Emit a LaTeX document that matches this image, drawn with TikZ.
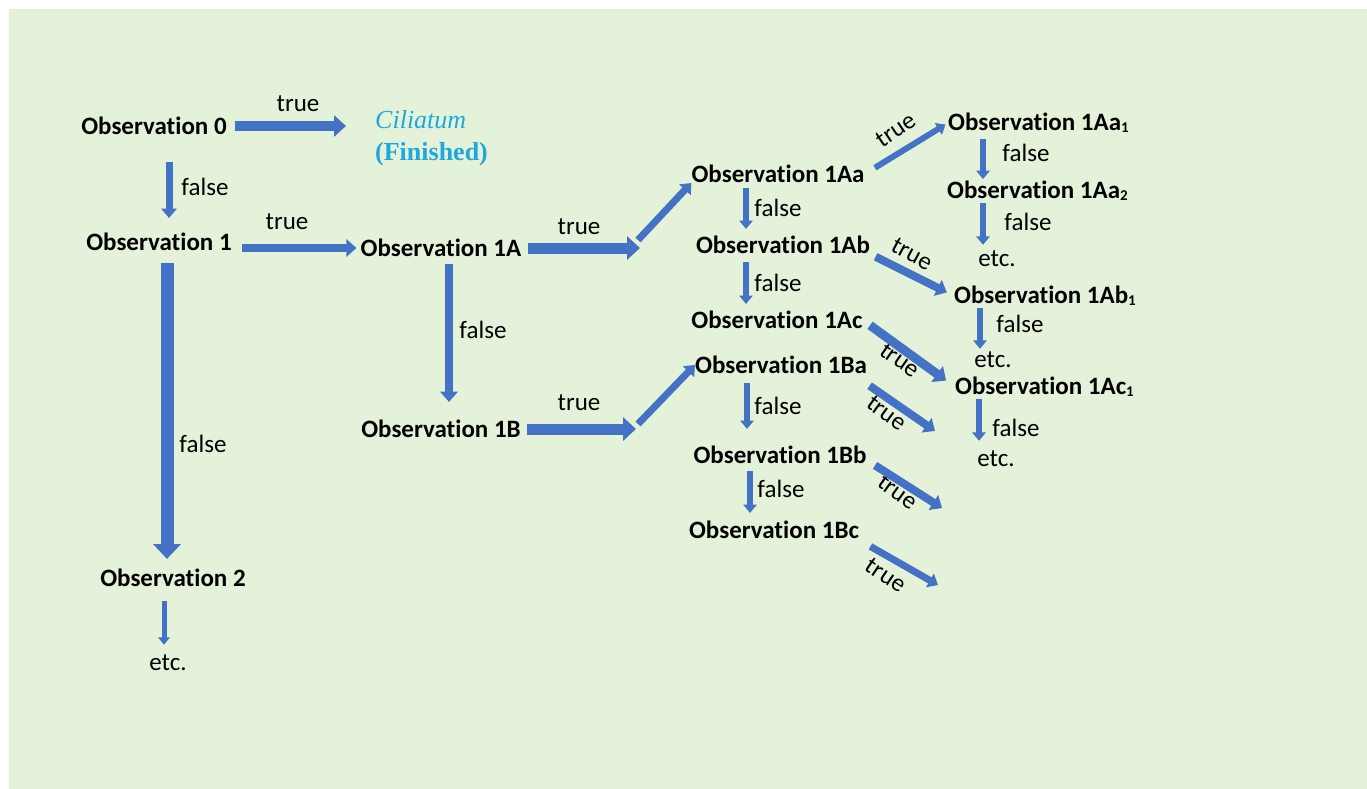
\documentclass[tikz,border=0pt]{standalone}
\usepackage{fontspec}
\setmainfont{Carlito}[Ligatures=NoCommon]
\newfontfamily\cilfont{Liberation Serif}
\definecolor{bggreen}{RGB}{229,242,218}
\definecolor{flowblue}{RGB}{68,114,196}
\definecolor{ciliblue}{RGB}{30,168,222}
\usetikzlibrary{arrows.meta, calc}
\newcommand{\obssub}[1]{\raisebox{-2pt}{\fontsize{15}{15}\selectfont #1}}

\begin{document}
\begin{tikzpicture}[x=1pt, y=-1pt,
    obs/.style={font=\bfseries\fontsize{25}{30}\selectfont, inner sep=0pt},
    lbl/.style={font=\fontsize{25}{30}\selectfont, inner sep=0pt},
    flow/.style={draw=flowblue, line width=#1, -{Triangle[length=3pt 0.9, width=2pt 1.9]}}]
  \useasboundingbox (0,0) rectangle (1367,789);
  \fill[bggreen] (9,9) rectangle (1367,789);

  % observations
  \node[obs] (obs0) at (154,126) {Observation 0};
  \node[align=left, anchor=west, inner sep=0pt, text=ciliblue, font=\cilfont\fontsize{26}{32}\selectfont] (cil) at (375,138) {\textit{Ciliatum}\\\textbf{(Finished)}};
  \node[obs] (obs1) at (159,242) {Observation 1};
  \node[obs] (obs2) at (173,578) {Observation 2};
  \node[lbl] (etc2) at (168,663) {etc.};
  \node[obs] (obs1A) at (441,248) {Observation 1A};
  \node[obs] (obs1B) at (441,429) {Observation 1B};
  \node[obs] (obs1Aa) at (778,174) {Observation 1Aa};
  \node[obs] (obs1Ab) at (783,245) {Observation 1Ab};
  \node[obs] (obs1Ac) at (777,320) {Observation 1Ac};
  \node[obs] (obs1Ba) at (781,365) {Observation 1Ba};
  \node[obs] (obs1Bb) at (780,455) {Observation 1Bb};
  \node[obs] (obs1Bc) at (774,530) {Observation 1Bc};
  \node[obs, anchor=west] (obs1Aa1) at (948,123) {Observation 1Aa\obssub{1}};
  \node[obs, anchor=west] (obs1Aa2) at (947,191) {Observation 1Aa\obssub{2}};
  \node[lbl] (etcAa) at (997,259) {etc.};
  \node[obs, anchor=west] (obs1Ab1) at (954,296) {Observation 1Ab\obssub{1}};
  \node[lbl] (etcAb) at (993,360) {etc.};
  \node[obs, anchor=west] (obs1Ac1) at (955,387) {Observation 1Ac\obssub{1}};
  \node[lbl] (etcAc) at (996,459) {etc.};

  % free ends
  \coordinate (hA) at (640,248);
  \coordinate (dA) at (638,240);
  \coordinate (hB) at (636,429);
  \coordinate (dB) at (638,424);
  \coordinate (tipBa) at (935,431);
  \coordinate (tipBb) at (942,508);
  \coordinate (tipBc) at (938,585);

  % labels
  \node[lbl] (t0) at (298,104) {true};
  \node[lbl] (f0) at (205,187) {false};
  \node[lbl] (t1) at (287,222) {true};
  \node[lbl] (f1) at (203,444) {false};
  \node[lbl] (f1A) at (483,330) {false};
  \node[lbl] (t1A) at (579,227) {true};
  \node[lbl] (t1B) at (579,403) {true};
  \node[lbl] (f1Aa) at (778,208) {false};
  \node[lbl] (f1Ab) at (778,283) {false};
  \node[lbl] (f1Ba) at (778,406) {false};
  \node[lbl] (f1Bb) at (781,489) {false};
  \node[lbl] (f1Aa1) at (1026,153) {false};
  \node[lbl] (f1Aa2) at (1028,222) {false};
  \node[lbl] (f1Ab1) at (1020,324) {false};
  \node[lbl] (f1Ac1) at (1016,428) {false};
  \node[lbl, rotate=34] (tAa1) at (896,130) {true};
  \node[lbl, rotate=-28] (tAb1) at (912,254) {true};
  \node[lbl, rotate=-35] (tAc1) at (900,360) {true};
  \node[lbl, rotate=-36] (tBa) at (887,413) {true};
  \node[lbl, rotate=-36] (tBb) at (898,492) {true};
  \node[lbl, rotate=-34] (tBc) at (886,575) {true};

  % left part
  \draw[flow=10pt, shorten <=8pt, shorten >=29pt] (obs0.east) -- (obs0.east -| cil.west);
  \draw[flow=7pt, shorten <=27pt, shorten >=15pt] ([xshift=15pt]obs0.south) -- ([xshift=15pt]obs0.south |- obs1.north);
  \draw[flow=8pt, shorten <=10pt, shorten >=4pt] (obs1A.west -| obs1.east) -- (obs1A.west);
  \draw[flow=13pt, shorten <=12pt, shorten >=10pt] ([xshift=8pt]obs1.south) -- ([xshift=8pt]obs1.south |- obs2.north);
  \draw[flow=5pt, shorten <=14pt, shorten >=10pt] ([xshift=-9pt]obs2.south) -- ([xshift=-9pt]obs2.south |- etc2.north);
  \draw[flow=8pt, shorten <=7pt, shorten >=18pt] ([xshift=8pt]obs1A.south) -- ([xshift=8pt]obs1A.south |- obs1B.north);

  % middle part
  \draw[flow=11pt, shorten <=7pt] (obs1A.east) -- (hA);
  \draw[flow=7pt] (dA) -- ([yshift=-9pt]obs1Aa.west);
  \draw[flow=11pt, shorten <=6pt] (obs1B.east) -- (hB);
  \draw[flow=7pt] (dB) -- (obs1Ba.west);
  \draw[flow=6pt, shorten <=5pt, shorten >=7pt] ([xshift=-32pt]obs1Aa.south) -- ([xshift=-32pt]obs1Aa.south |- obs1Ab.north);
  \draw[flow=6pt, shorten <=8pt, shorten >=7pt] ([xshift=-37pt]obs1Ab.south) -- ([xshift=-37pt]obs1Ab.south |- obs1Ac.north);
  \draw[flow=6pt, shorten <=9pt, shorten >=17pt] ([xshift=-34pt]obs1Ba.south) -- ([xshift=-34pt]obs1Ba.south |- obs1Bb.north);
  \draw[flow=6pt, shorten <=7pt, shorten >=8pt] ([xshift=-30pt]obs1Bb.south) -- ([xshift=-30pt]obs1Bb.south |- obs1Bc.north);

  % right part
  \draw[flow=6pt, shorten <=12pt, shorten >=3pt] (obs1Aa.east) -- (obs1Aa1.west);
  \draw[flow=8pt, shorten <=6pt, shorten >=8pt] ([yshift=-9pt]obs1Ab.east) -- (obs1Ab1.west);
  \draw[flow=9pt, shorten <=9pt, shorten >=11pt] (obs1Ac.east) -- (obs1Ac1.west);
  \draw[flow=8pt, shorten <=3pt] ([yshift=-19pt]obs1Ba.east) -- (tipBa);
  \draw[flow=8pt, shorten <=10pt] ([yshift=-5pt]obs1Bb.east) -- (tipBb);
  \draw[flow=7pt, shorten <=13pt] ([yshift=-10pt]obs1Bc.east) -- (tipBc);
  \draw[flow=6pt, shorten <=6pt, shorten >=2pt] ([xshift=35pt]obs1Aa1.south west) -- ([xshift=35pt]obs1Aa1.south west |- obs1Aa2.north);
  \draw[flow=6pt, shorten <=2pt, shorten >=6pt] ([xshift=36pt]obs1Aa2.south west) -- ([xshift=36pt]obs1Aa2.south west |- etcAa.north);
  \draw[flow=6pt, shorten <=2pt, shorten >=3pt] ([xshift=26pt]obs1Ab1.south west) -- ([xshift=26pt]obs1Ab1.south west |- etcAb.north);
  \draw[flow=6pt, shorten <=2pt, shorten >=10pt] ([xshift=24pt]obs1Ac1.south west) -- ([xshift=24pt]obs1Ac1.south west |- etcAc.north);
\end{tikzpicture}
\end{document}
